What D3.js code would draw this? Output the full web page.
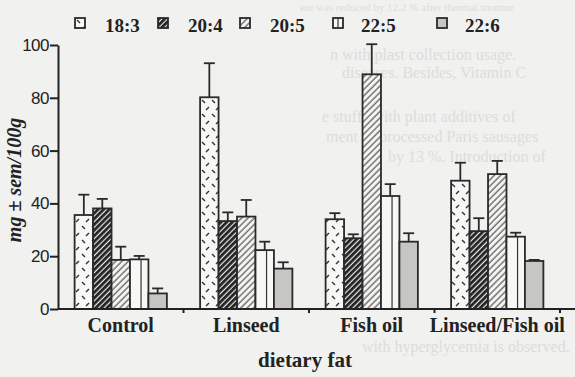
<!DOCTYPE html>
<html>
<head>
<meta charset="utf-8">
<script src="https://cdn.jsdelivr.net/npm/d3@7"></script>
<style>
  body { margin: 0; background: #f1f1ef; }
  svg { display: block; }
  .serif { font-family: "Liberation Serif", "Times New Roman", serif; font-weight: bold; fill: #222; }
  .ghost { font-family: "Liberation Serif", serif; font-size: 16px; fill: #dddddb; }
  .y-axis text { font-family: "Liberation Sans", Arial, sans-serif; font-size: 17px; fill: #222; letter-spacing: -0.5px; }
</style>
</head>
<body>
<div id="chart"></div>
<script>

// dietary fat groups and fatty acids
var groups = ["Control", "Linseed", "Fish oil", "Linseed/Fish oil"];
var series = ["18:3", "20:4", "20:5", "22:5", "22:6"];

// mean values (mg/100g), one array per fatty acid, in group order
var mean_183 = [35.6, 80.2, 34.0, 48.6];
var mean_204 = [38.1, 33.3, 26.8, 29.5];
var mean_205 = [18.6, 35.0, 88.9, 51.1];
var mean_225 = [18.8, 22.3, 42.8, 27.4];
var mean_226 = [5.9, 15.3, 25.5, 18.2];

// sem
var sem_183 = [7.7, 12.9, 2.3, 6.8];
var sem_204 = [3.6, 3.3, 1.5, 4.9];
var sem_205 = [5.0, 6.3, 11.4, 5.0];
var sem_225 = [1.3, 3.2, 4.5, 1.5];
var sem_226 = [1.9, 2.4, 3.2, 0.4];

var yTicks = [0, 20, 40, 60, 80, 100];

// show-through text of the scanned page (faint)
var ghostLines = [
    "ent was reduced by 12.2 % after thermal treatme",
    "n with plast collection usage.",
    "diseases. Besides, Vitamin C",
    "e stuffs with plant additives of",
    "ment of processed Paris sausages",
    "by 13 %. Introduction of",
    "with hyperglycemia is observed."
];

var means = [mean_183, mean_204, mean_205, mean_225, mean_226];
var sems = [sem_183, sem_204, sem_205, sem_225, sem_226];

var rows = [];
groups.forEach(function(g, i) {
    series.forEach(function(s, j) {
        rows.push({group: g, series: s, k: j, mean: means[j][i], sem: sems[j][i]});
    });
});

var width = 575, height = 377;
var margin = {top: 45, bottom: 68, left: 58, right: 15};

var svg = d3.select("#chart")
    .append("svg")
    .attr("width", width)
    .attr("height", height);

// ghost text
var ghostPos = [[300, 11], [330, 60], [342, 78], [322, 122], [326, 142], [388, 162], [362, 352]];
svg.append("g")
    .selectAll("text")
    .data(ghostLines)
    .enter()
    .append("text")
    .attr("class", "ghost")
    .attr("x", function(d, i) { return ghostPos[i][0]; })
    .attr("y", function(d, i) { return ghostPos[i][1]; })
    .style("font-size", function(d, i) { return i === 0 ? "11px" : null; })
    .text(function(d) { return d; });

// patterns
var defs = svg.append("defs");

var p1 = defs.append("pattern")
    .attr("id", "p183")
    .attr("patternUnits", "userSpaceOnUse")
    .attr("width", 10).attr("height", 14);
p1.append("rect").attr("width", 10).attr("height", 14).attr("fill", "#f7f7f5");
p1.append("path").attr("d", "M2,2 l3,3").attr("stroke", "#333").attr("stroke-width", 1.4);
p1.append("path").attr("d", "M6,12 l3,-3").attr("stroke", "#333").attr("stroke-width", 1.4);

var p2 = defs.append("pattern")
    .attr("id", "p204")
    .attr("patternUnits", "userSpaceOnUse")
    .attr("patternTransform", "rotate(45)")
    .attr("width", 4).attr("height", 4);
p2.append("rect").attr("width", 4).attr("height", 4).attr("fill", "#e8e8e8");
p2.append("line").attr("x1", 1.4).attr("x2", 1.4).attr("y1", 0).attr("y2", 4)
    .attr("stroke", "#222").attr("stroke-width", 2.8);

var p3 = defs.append("pattern")
    .attr("id", "p205")
    .attr("patternUnits", "userSpaceOnUse")
    .attr("patternTransform", "rotate(45)")
    .attr("width", 4.5).attr("height", 4.5);
p3.append("rect").attr("width", 4.5).attr("height", 4.5).attr("fill", "#f5f5f3");
p3.append("line").attr("x1", 1).attr("x2", 1).attr("y1", 0).attr("y2", 4.5)
    .attr("stroke", "#444").attr("stroke-width", 1.1);

var fills = {"18:3": "url(#p183)", "20:4": "url(#p204)", "20:5": "url(#p205)",
             "22:5": "#f7f7f5", "22:6": "#c6c6c4"};

// scales
var x0 = d3.scaleBand()
    .domain(groups)
    .range([margin.left, 560]);

var x1 = d3.scaleBand()
    .domain(series)
    .range([0, x0.bandwidth()])
    .paddingOuter(0.9);

var y = d3.scaleLinear()
    .domain([0, 100])
    .range([309, 45]);

// bars
var bars = svg.append("g");

bars.selectAll("rect")
    .data(rows)
    .enter()
    .append("rect")
    .attr("x", function(d) { return x0(d.group) + x1(d.series); })
    .attr("y", function(d) { return y(d.mean); })
    .attr("width", x1.bandwidth())
    .attr("height", function(d) { return y(0) - y(d.mean); })
    .attr("fill", function(d) { return fills[d.series]; })
    .attr("stroke", "#2a2a2a")
    .attr("stroke-width", 1.8);

// 22:5 bars have a vertical line inside
bars.selectAll("line.inner")
    .data(rows.filter(function(d) { return d.series === "22:5"; }))
    .enter()
    .append("line")
    .attr("class", "inner")
    .attr("x1", function(d) { return x0(d.group) + x1(d.series) + x1.bandwidth() * 0.6; })
    .attr("x2", function(d) { return x0(d.group) + x1(d.series) + x1.bandwidth() * 0.6; })
    .attr("y1", function(d) { return y(d.mean); })
    .attr("y2", y(0))
    .attr("stroke", "#333")
    .attr("stroke-width", 1.2);

// error bars (upper only)
var err = svg.append("g")
    .attr("stroke", "#2a2a2a")
    .attr("stroke-width", 1.8);

err.selectAll("line.stem")
    .data(rows)
    .enter()
    .append("line")
    .attr("class", "stem")
    .attr("x1", function(d) { return x0(d.group) + x1(d.series) + x1.bandwidth() / 2; })
    .attr("x2", function(d) { return x0(d.group) + x1(d.series) + x1.bandwidth() / 2; })
    .attr("y1", function(d) { return y(d.mean); })
    .attr("y2", function(d) { return y(d.mean + d.sem); });

err.selectAll("line.cap")
    .data(rows)
    .enter()
    .append("line")
    .attr("class", "cap")
    .attr("x1", function(d) { return x0(d.group) + x1(d.series) + x1.bandwidth() / 2 - 5.5; })
    .attr("x2", function(d) { return x0(d.group) + x1(d.series) + x1.bandwidth() / 2 + 5.5; })
    .attr("y1", function(d) { return y(d.mean + d.sem); })
    .attr("y2", function(d) { return y(d.mean + d.sem); });

// y axis
var yAxis = svg.append("g")
    .attr("class", "y-axis")
    .attr("transform", "translate(" + margin.left + ",0)")
    .call(d3.axisLeft(y).tickValues(yTicks).tickSize(8).tickPadding(1).tickSizeOuter(0));
yAxis.selectAll("path, line").attr("stroke", "#222").attr("stroke-width", 2);

// x axis: line to the right edge with ticks between groups
var xAxis = svg.append("g")
    .attr("stroke", "#222")
    .attr("stroke-width", 2);
xAxis.append("line")
    .attr("x1", margin.left).attr("x2", width)
    .attr("y1", y(0)).attr("y2", y(0));
xAxis.selectAll("line.tick")
    .data(groups)
    .enter()
    .append("line")
    .attr("class", "tick")
    .attr("x1", function(d) { return x0(d) + x0.bandwidth(); })
    .attr("x2", function(d) { return x0(d) + x0.bandwidth(); })
    .attr("y1", y(0))
    .attr("y2", y(0) + 4);

svg.append("g")
    .selectAll("text")
    .data(groups)
    .enter()
    .append("text")
    .attr("class", "serif")
    .attr("x", function(d) { return x0(d) + x0.bandwidth() / 2; })
    .attr("y", 332)
    .attr("text-anchor", "middle")
    .style("font-size", "20px")
    .text(function(d) { return d; });

// axis titles
svg.append("text")
    .attr("class", "serif")
    .attr("x", 305)
    .attr("y", 367)
    .attr("text-anchor", "middle")
    .style("font-size", "21px")
    .text("dietary fat");

svg.append("text")
    .attr("class", "serif")
    .attr("transform", "translate(21,180) rotate(-90)")
    .attr("text-anchor", "middle")
    .style("font-size", "20px")
    .style("font-style", "italic")
    .text("mg \u00b1 sem/100g");

// legend
var legendX = [75, 158, 240, 333, 437];
var legend = svg.append("g")
    .selectAll("g")
    .data(series)
    .enter()
    .append("g")
    .attr("transform", function(d, i) { return "translate(" + legendX[i] + ",18)"; });

legend.append("rect")
    .attr("width", 10)
    .attr("height", 10)
    .attr("fill", function(d) { return fills[d]; })
    .attr("stroke", "#2a2a2a")
    .attr("stroke-width", 1.8);

legend.filter(function(d) { return d === "22:5"; })
    .append("line")
    .attr("x1", 5).attr("x2", 5).attr("y1", 0).attr("y2", 10)
    .attr("stroke", "#333").attr("stroke-width", 1.2);

legend.append("text")
    .attr("class", "serif")
    .attr("x", function(d, i) { return i < 3 ? 30 : 28; })
    .attr("y", 13.5)
    .style("font-size", "19px")
    .text(function(d) { return d; });

</script>
</body>
</html>
